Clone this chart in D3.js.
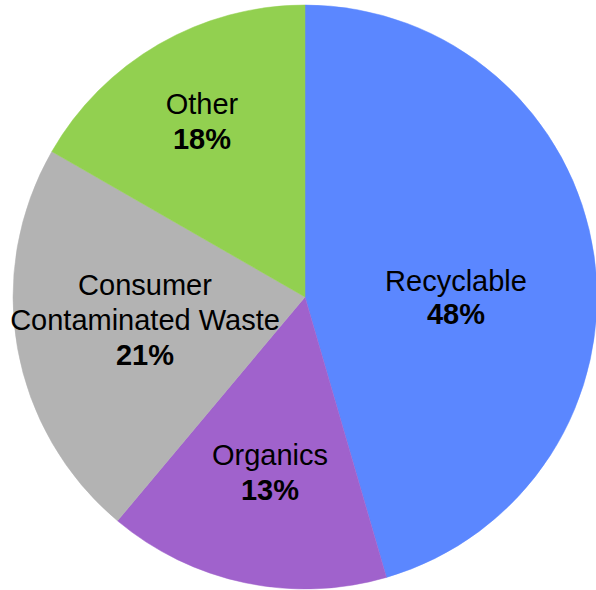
<!DOCTYPE html>
<html>
<head>
<meta charset="utf-8">
<script src="https://cdn.jsdelivr.net/npm/d3@7/dist/d3.min.js"></script>
<style>
  html, body { margin: 0; padding: 0; background: #ffffff; }
  svg { display: block; }
</style>
</head>
<body>
<svg id="chart" width="596" height="590"></svg>
<script>
// Categories (clockwise from 12 o'clock)
const categories = ["Recyclable", "Organics", "Consumer Contaminated Waste", "Other"];
// Slice sizes as drawn in the picture (share of the circle)
const sliceValues = [45.5, 15.6, 22.2, 16.7];
// Percent labels as printed on the chart
const percentLabels = ["48%", "13%", "21%", "18%"];
// Label text lines (category names broken as in the picture)
const nameLines = [["Recyclable"], ["Organics"], ["Consumer", "Contaminated Waste"], ["Other"]];
const colors = ["#5B87FF", "#A062CC", "#B3B3B3", "#92D050"];

// Layout
const cx = 305, cy = 297, radius = 292;
const labelLayout = [
  { x: 456, y: 290.5, lh: 33.5 },
  { x: 270, y: 464.5, lh: 35.5 },
  { x: 145, y: 295, lh: 35 },
  { x: 202, y: 113.5, lh: 35.5 }
];

const svg = d3.select("#chart");
const g = svg.append("g").attr("transform", `translate(${cx},${cy})`);

const data = categories.map((c, i) => ({ name: c, value: sliceValues[i], i }));
const pie = d3.pie().value(d => d.value).sort(null).startAngle(0).endAngle(2 * Math.PI);
const arc = d3.arc().innerRadius(0).outerRadius(radius);

g.selectAll("path.slice")
  .data(pie(data))
  .join("path")
  .attr("class", "slice")
  .attr("d", arc)
  .attr("fill", d => colors[d.data.i])
  .attr("stroke", d => colors[d.data.i])
  .attr("stroke-width", 0.5);

const labels = svg.append("g")
  .attr("font-family", "'Liberation Sans', Arial, sans-serif")
  .attr("font-size", 29)
  .attr("fill", "#000")
  .attr("text-anchor", "middle");

data.forEach((d, i) => {
  const L = labelLayout[i];
  const lines = nameLines[i];
  const t = labels.append("text").attr("x", L.x).attr("y", L.y);
  lines.forEach((ln, k) => {
    t.append("tspan").attr("x", L.x).attr("y", L.y + k * L.lh).text(ln);
  });
  t.append("tspan")
    .attr("x", L.x)
    .attr("y", L.y + lines.length * L.lh)
    .attr("font-weight", "bold")
    .text(percentLabels[i]);
});
</script>
</body>
</html>
